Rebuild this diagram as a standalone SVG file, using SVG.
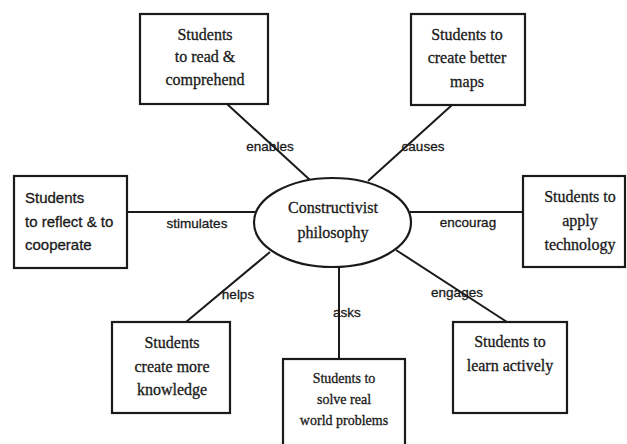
<svg xmlns="http://www.w3.org/2000/svg" width="627" height="444" viewBox="0 0 627 444">
  <style>
    .box { fill: #ffffff; stroke: #1a1a1a; stroke-width: 2.2; }
    .hub { fill: #ffffff; stroke: #1a1a1a; stroke-width: 2.2; }
    .edge { stroke: #1a1a1a; stroke-width: 2; fill: none; }
    text { stroke: #1a1a1a; stroke-width: 0.3; }
    .t { font-family: "Liberation Serif", "Times New Roman", serif; font-size: 16px; fill: #1a1a1a; text-anchor: middle; }
    .ts { font-family: "Liberation Serif", "Times New Roman", serif; font-size: 14px; fill: #1a1a1a; text-anchor: middle; }
    .tsans { font-family: "Liberation Sans", Arial, sans-serif; font-size: 15px; fill: #1a1a1a; }
    .lbl { font-family: "Liberation Sans", Arial, sans-serif; font-size: 13.5px; fill: #1a1a1a; text-anchor: middle; }
  </style>
  <rect width="627" height="444" fill="#ffffff"/>

  <!-- connectors from the central ellipse to each box -->
  <g id="connectors">
    <line class="edge" x1="227" y1="104" x2="310" y2="180"/>
    <line class="edge" x1="452" y1="105" x2="368" y2="181"/>
    <line class="edge" x1="127" y1="212" x2="255" y2="212"/>
    <line class="edge" x1="410" y1="212" x2="523" y2="212"/>
    <line class="edge" x1="186" y1="322" x2="270" y2="252"/>
    <line class="edge" x1="339" y1="267" x2="339" y2="359"/>
    <line class="edge" x1="396" y1="250" x2="507" y2="322"/>
    <text class="lbl" x="270" y="151">enables</text>
    <text class="lbl" x="423" y="151">causes</text>
    <text class="lbl" x="197" y="228">stimulates</text>
    <text class="lbl" x="468" y="227">encourag</text>
    <text class="lbl" x="238" y="299">helps</text>
    <text class="lbl" x="347" y="317">asks</text>
    <text class="lbl" x="457" y="297">engages</text>
  </g>

  <g id="hub">
    <ellipse class="hub" cx="332.5" cy="222.5" rx="78.5" ry="44.5"/>
    <text class="t" x="333" y="213">Constructivist</text>
    <text class="t" x="333" y="238">philosophy</text>
  </g>

  <g id="read">
    <rect class="box" x="140" y="14" width="128" height="90"/>
    <text class="t" x="205" y="40">Students</text>
    <text class="t" x="205" y="62">to read &amp;</text>
    <text class="t" x="205" y="85">comprehend</text>
  </g>

  <g id="maps">
    <rect class="box" x="411" y="14" width="114" height="91"/>
    <text class="t" x="467" y="40">Students to</text>
    <text class="t" x="467" y="63">create better</text>
    <text class="t" x="467" y="87">maps</text>
  </g>

  <g id="reflect">
    <rect class="box" x="14" y="176" width="113" height="92"/>
    <text class="tsans" x="25" y="203">Students</text>
    <text class="tsans" x="25" y="227">to reflect &amp; to</text>
    <text class="tsans" x="25" y="250">cooperate</text>
  </g>

  <g id="technology">
    <rect class="box" x="523" y="176" width="102" height="91"/>
    <text class="t" x="580" y="202">Students to</text>
    <text class="t" x="580" y="226">apply</text>
    <text class="t" x="580" y="250">technology</text>
  </g>

  <g id="knowledge">
    <rect class="box" x="112" y="322" width="118" height="91"/>
    <text class="t" x="172" y="348">Students</text>
    <text class="t" x="172" y="372">create more</text>
    <text class="t" x="172" y="395">knowledge</text>
  </g>

  <g id="problems">
    <rect class="box" x="283" y="359" width="122" height="95"/>
    <text class="ts" x="344" y="383">Students to</text>
    <text class="ts" x="344" y="404">solve real</text>
    <text class="ts" x="344" y="425">world problems</text>
  </g>

  <g id="actively">
    <rect class="box" x="453" y="322" width="114" height="91"/>
    <text class="t" x="510" y="347">Students to</text>
    <text class="t" x="510" y="371">learn actively</text>
  </g>
</svg>
